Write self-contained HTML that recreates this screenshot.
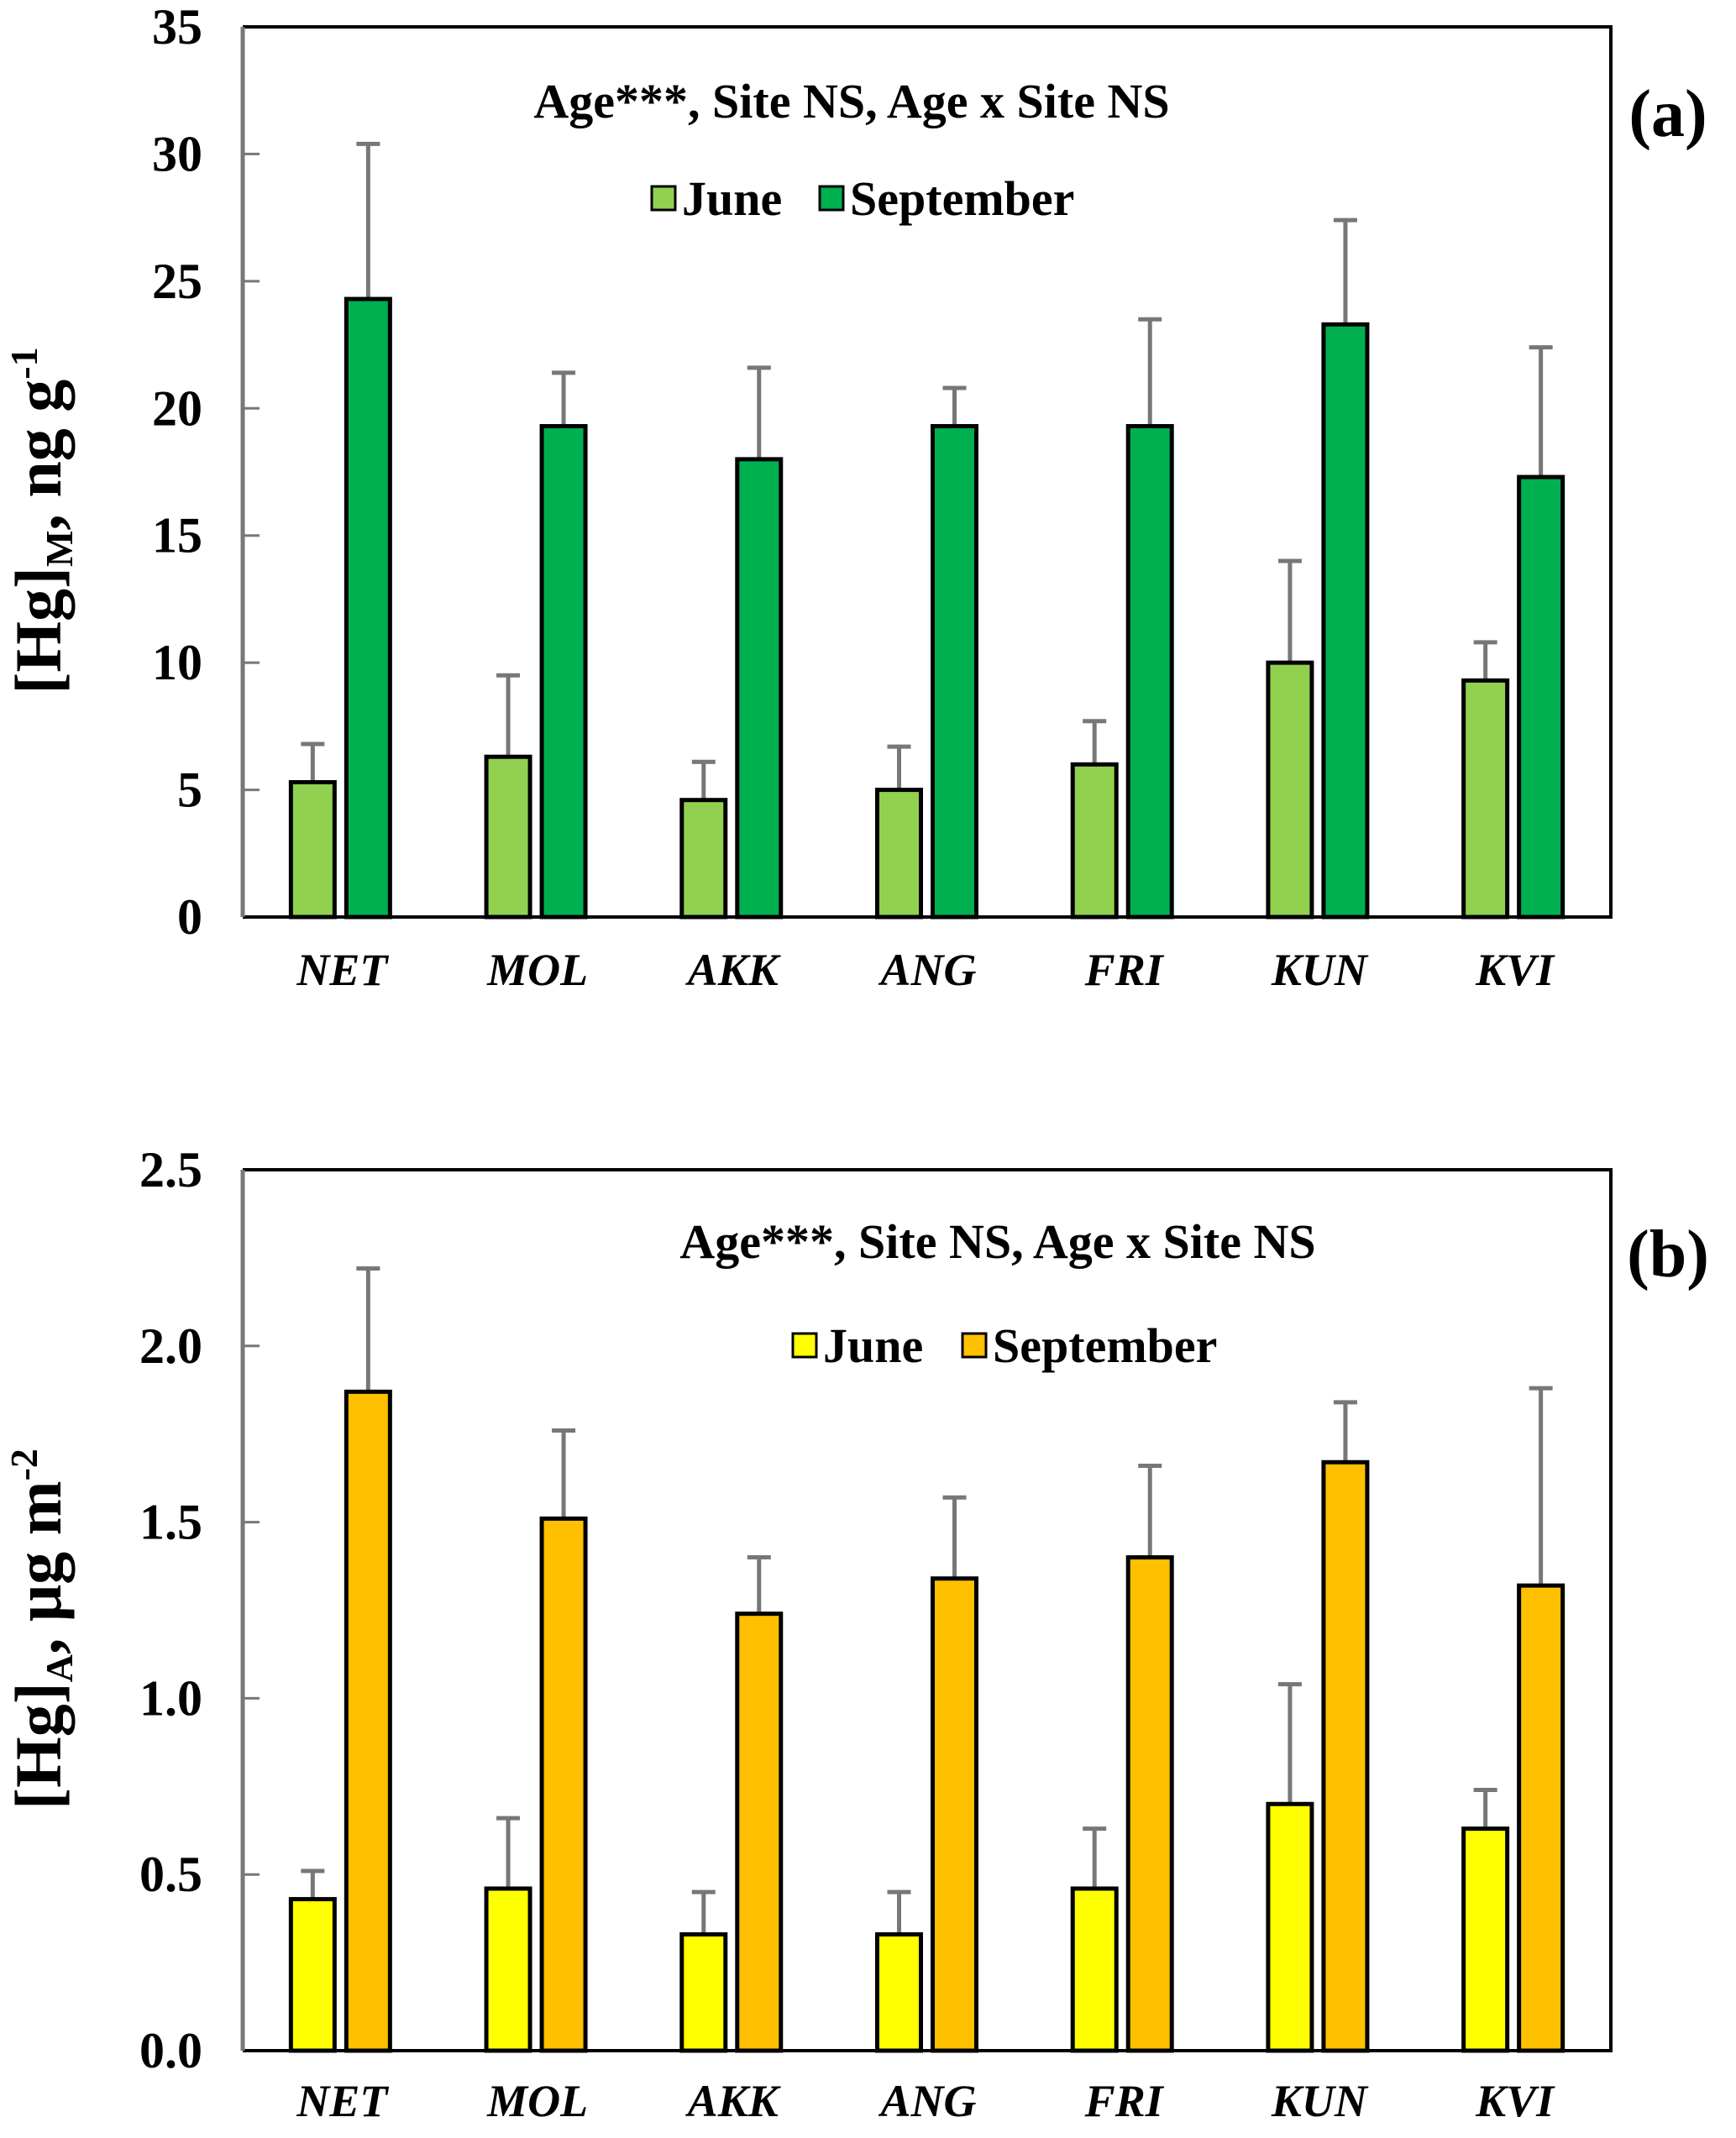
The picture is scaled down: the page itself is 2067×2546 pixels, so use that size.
<!DOCTYPE html>
<html><head><meta charset="utf-8"><style>
html,body{margin:0;padding:0;background:#fff;}
svg{display:block;font-family:"Liberation Serif",serif;font-weight:bold;}
</style></head><body>
<svg id="chart" width="2067" height="2546" viewBox="0 0 2067 2546"></svg>
<script>
const categories = ["NET","MOL","AKK","ANG","FRI","KUN","KVI"];
const aJune = [5.3,6.3,4.6,5.0,6.0,10.0,9.3];
const aJuneTop = [6.8,9.5,6.1,6.7,7.7,14.0,10.8];
const aSept = [24.3,19.3,18.0,19.3,19.3,23.3,17.3];
const aSeptTop = [30.4,21.4,21.6,20.8,23.5,27.4,22.4];
const aTicks = [0,5,10,15,20,25,30,35];
const bJune = [0.43,0.46,0.33,0.33,0.46,0.70,0.63];
const bJuneTop = [0.51,0.66,0.45,0.45,0.63,1.04,0.74];
const bSept = [1.87,1.51,1.24,1.34,1.40,1.67,1.32];
const bSeptTop = [2.22,1.76,1.40,1.57,1.66,1.84,1.88];
const bTicks = ["0.0","0.5","1.0","1.5","2.0","2.5"];

const NS="http://www.w3.org/2000/svg";
const svg=document.getElementById('chart');
function el(tag,attrs,parent){const e=document.createElementNS(NS,tag);for(const k in attrs)e.setAttribute(k,attrs[k]);(parent||svg).appendChild(e);return e;}

function panel(o){
  const g=el('g',{});
  
  
  const L=289,R=1918,T=o.top,B=o.bottom,max=o.max;
  const y=v=>B-(v/max)*(B-T);
  const step=(R-L)/categories.length;
  const x=i=>L+step*(i+0.5);
  o.ticks.forEach(t=>{
    const v=parseFloat(t),yy=y(v);
    const tk=el('line',{x1:L,x2:L+20,y1:yy,y2:yy,stroke:'#777','stroke-width':3},g);
    
    
    const tl=el('text',{x:241,y:yy+20,'text-anchor':'end','font-size':60},g);
    tl.textContent=t;
    
    
  });
  categories.forEach((c,i)=>{
    const cx=x(i);
    [[o.june,o.juneTop,o.c1,-33,'june'],[o.sept,o.septTop,o.c2,33,'september']].forEach(s=>{
      const v=s[0][i],top=s[1][i],bx=cx+s[3];
      const eb=el('line',{x1:bx,x2:bx,y1:y(top),y2:y(v),stroke:'#777','stroke-width':5},g);
      
      
      const cap=el('line',{x1:bx-14,x2:bx+14,y1:y(top),y2:y(top),stroke:'#777','stroke-width':5},g);
      
      
      const r=el('rect',{x:bx-26,y:y(v),width:52,height:B-y(v),fill:s[2],stroke:'#000','stroke-width':5},g);
      
      
    });
    const cl=el('text',{x:cx+2,y:o.catY,'text-anchor':'middle','font-size':54,'font-style':'italic'},g);
    cl.textContent=c;
    
    
  });
  const fr=el('path',{d:`M${L} ${T}H${R}V${B}H${L}`,fill:'none',stroke:'#000','stroke-width':4},g);
  
  
  const ax=el('line',{x1:L,x2:L,y1:T,y2:B,stroke:'#777','stroke-width':5},g);
  
  
  const an=el('text',{x:o.annX,y:o.annY,'text-anchor':'middle','font-size':58},g);
  an.textContent='Age***, Site NS, Age x Site NS';
  
  
  const pl=el('text',{x:1986,y:o.annY+22,'text-anchor':'middle','font-size':80},g);
  pl.textContent=o.label;
  
  
  const lb1=el('rect',{x:o.legX,y:o.legY-34,width:28,height:28,fill:o.c1,stroke:'#000','stroke-width':3},g);
  
  
  const lt1=el('text',{x:o.legX+36,y:o.legY,'font-size':58},g);
  lt1.textContent='June';
  
  
  const lb2=el('rect',{x:o.legX2,y:o.legY-34,width:28,height:28,fill:o.c2,stroke:'#000','stroke-width':3},g);
  
  
  const lt2=el('text',{x:o.legX2+36,y:o.legY,'font-size':58},g);
  lt2.textContent='September';
  
  
  const yt=el('text',{transform:`translate(72 ${o.ytY}) rotate(-90)`,'text-anchor':'middle','font-size':78},g);
  yt.innerHTML=o.ytitle;
  
  
}
panel({name:'panel-a',top:32,bottom:1092,max:35,ticks:aTicks.map(String),june:aJune,juneTop:aJuneTop,sept:aSept,septTop:aSeptTop,
  c1:'#92d050',c2:'#00b050',catY:1173,annX:1014,annY:140,label:'(a)',legX:776,legX2:976,legY:256,ytY:620,
  ytitle:'[Hg]<tspan font-size="46" dy="14">M</tspan><tspan dy="-14">, ng g</tspan><tspan font-size="46" dy="-28">-1</tspan>'});
panel({name:'panel-b',top:1393,bottom:2442,max:2.5,ticks:bTicks,june:bJune,juneTop:bJuneTop,sept:bSept,septTop:bSeptTop,
  c1:'#ffff00',c2:'#ffc000',catY:2520,annX:1188,annY:1498,label:'(b)',legX:944,legX2:1146,legY:1622,ytY:1940,
  ytitle:'[Hg]<tspan font-size="46" dy="14">A</tspan><tspan dy="-14">, μg m</tspan><tspan font-size="46" dy="-28">-2</tspan>'});
</script>
</body></html>
